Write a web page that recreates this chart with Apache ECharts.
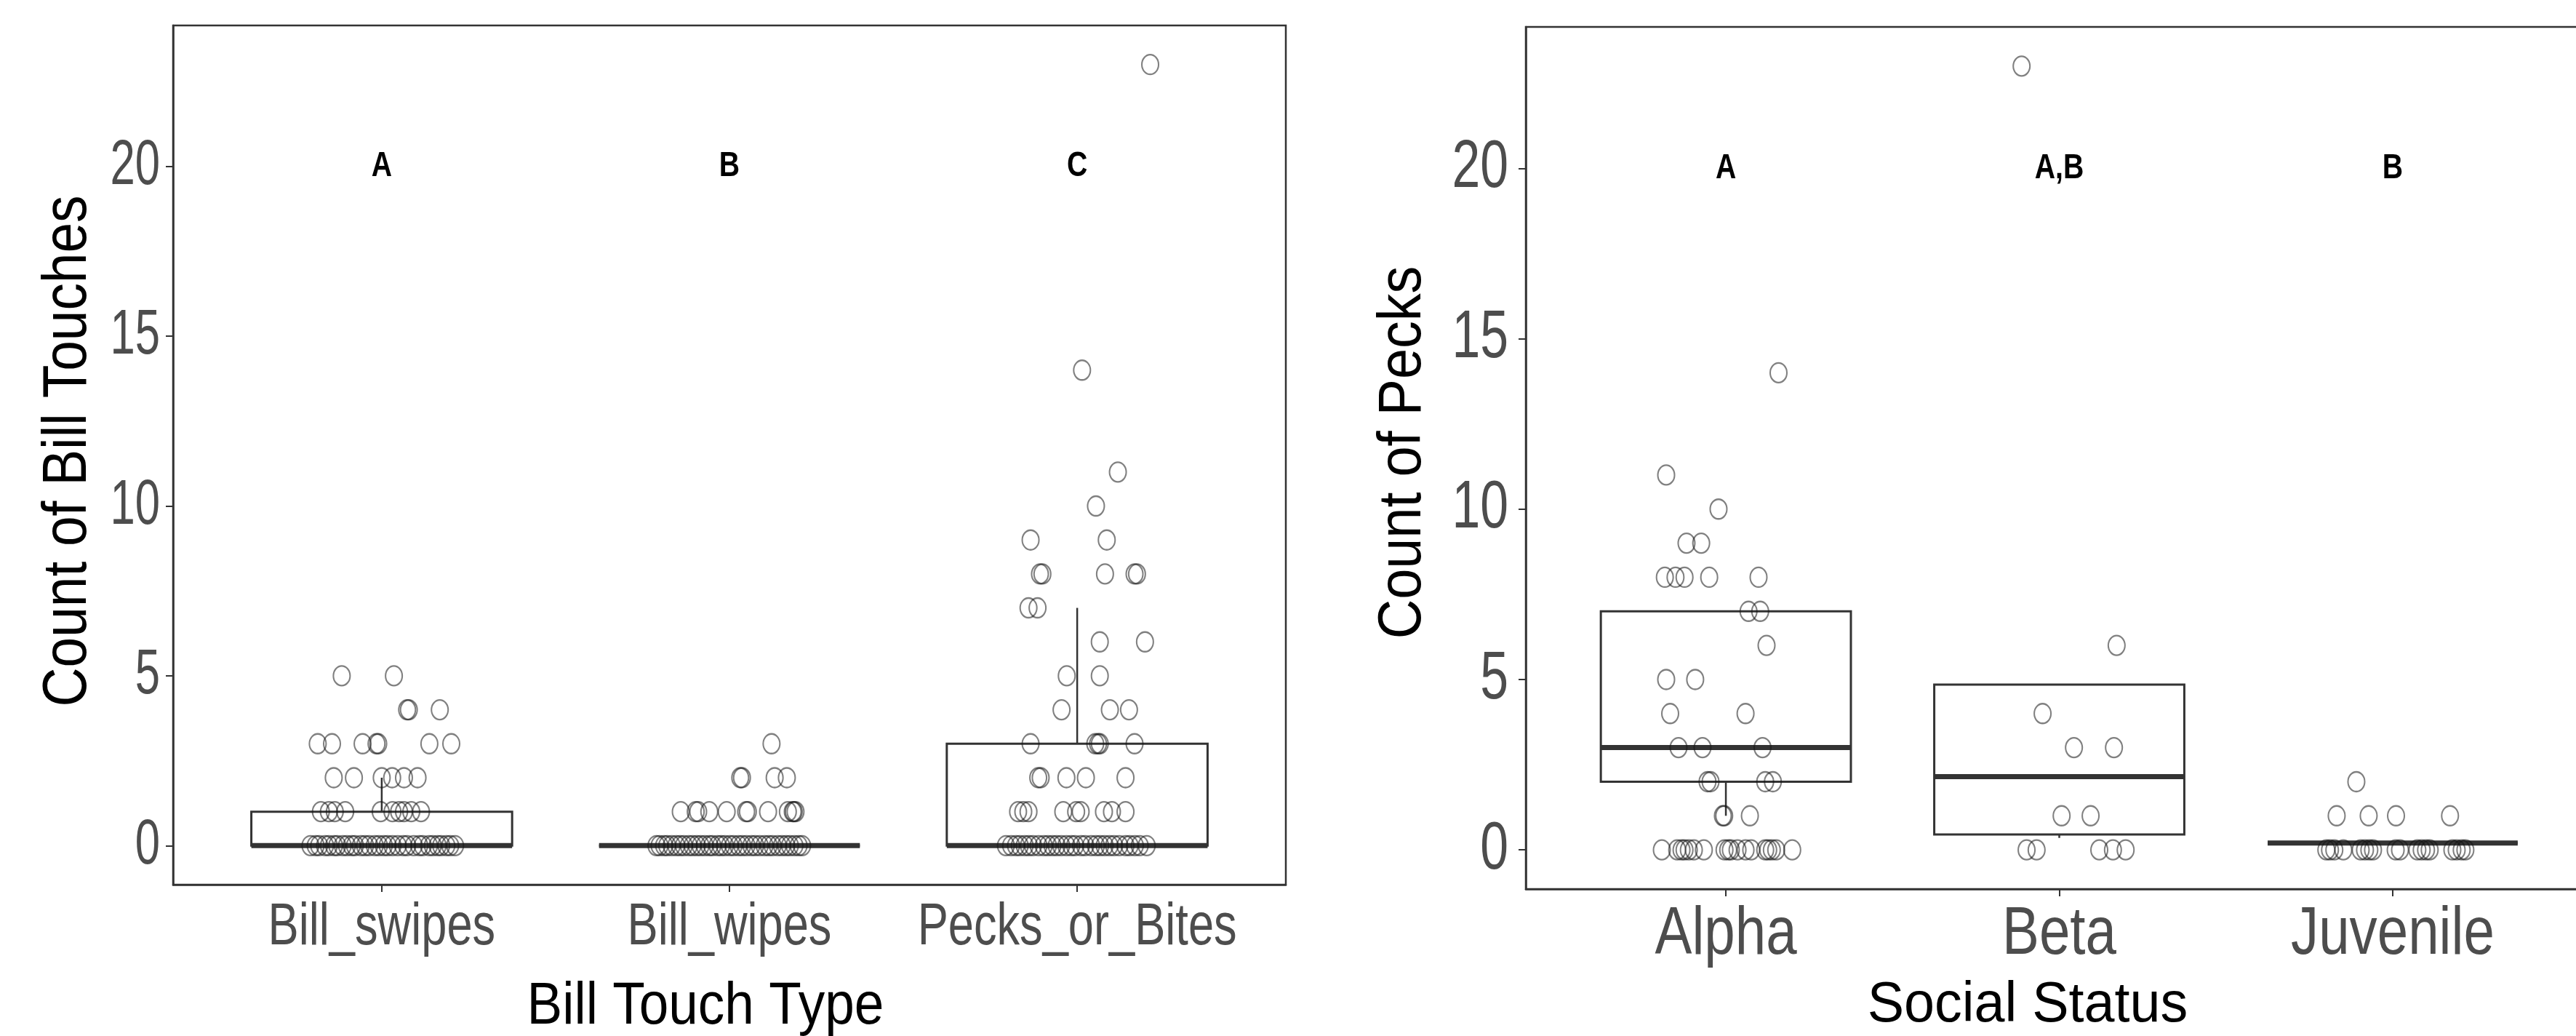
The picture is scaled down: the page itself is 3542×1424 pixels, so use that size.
<!DOCTYPE html>
<html><head><meta charset="utf-8">
<script src="https://cdn.jsdelivr.net/npm/echarts@6/dist/echarts.min.js"></script>
<style>html,body{margin:0;padding:0;background:#fff}#c{width:3542px;height:1424px}</style>
</head><body><div id="c"></div>
<script>
// ---------- data ----------
const touchTypes = ['Bill_swipes', 'Bill_wipes', 'Pecks_or_Bites'];
const statuses = ['Alpha', 'Beta', 'Juvenile'];
const yTicks = [0, 5, 10, 15, 20];
const touchLetters = ['A', 'B', 'C'];
const statusLetters = ['A', 'A,B', 'B'];
const letterLevel = 20;
const leftTitles = {x: 'Bill Touch Type', y: 'Count of Bill Touches'};
const rightTitles = {x: 'Social Status', y: 'Count of Pecks'};
// box stats: [lowerWhisker, q1, median, q3, upperWhisker]
const touchBoxes = [[0, 0, 0, 1, 2], [0, 0, 0, 0, 0], [0, 0, 0, 3, 7]];
const statusBoxes = [[1, 2, 3, 7, 7], [0.35, 0.45, 2.15, 4.85, 4.85], [0.2, 0.2, 0.2, 0.2, 0.2]];

// jittered points: [horizontal jitter (category units), count]
const billSwipes = [
  [-0.115,5],[0.035,5],
  [0.073,4],[0.078,4],[0.167,4],
  [-0.184,3],[-0.143,3],[-0.055,3],[-0.015,3],[-0.01,3],[0.137,3],[0.2,3],
  [-0.138,2],[-0.08,2],[0.0,2],[0.03,2],[0.064,2],[0.103,2],
  [-0.175,1],[-0.152,1],[-0.135,1],[-0.105,1],[-0.003,1],[0.031,1],[0.05,1],[0.064,1],[0.085,1],[0.113,1],
  [-0.205,0],[-0.19,0],[-0.18,0],[-0.163,0],[-0.152,0],[-0.137,0],[-0.128,0],[-0.112,0],[-0.1,0],[-0.086,0],
  [-0.077,0],[-0.06,0],[-0.048,0],[-0.036,0],[-0.02,0],[-0.008,0],[0.006,0],[0.017,0],[0.031,0],[0.046,0],
  [0.062,0],[0.073,0],[0.092,0],[0.108,0],[0.118,0],[0.136,0],[0.147,0],[0.161,0],[0.171,0],[0.186,0],[0.197,0],[0.211,0]
];
const billWipes = [
  [0.121,3],
  [0.031,2],[0.036,2],[0.13,2],[0.165,2],
  [-0.14,1],[-0.097,1],[-0.09,1],[-0.058,1],[-0.008,1],[0.048,1],[0.053,1],[0.111,1],[0.168,1],[0.182,1],[0.185,1],[0.19,1],
  [-0.21,0],[-0.201,0],[-0.188,0],[-0.179,0],[-0.166,0],[-0.153,0],[-0.142,0],[-0.131,0],[-0.117,0],[-0.106,0],
  [-0.094,0],[-0.083,0],[-0.071,0],[-0.058,0],[-0.049,0],[-0.034,0],[-0.024,0],[-0.013,0],[0.001,0],[0.012,0],
  [0.026,0],[0.037,0],[0.049,0],[0.063,0],[0.074,0],[0.087,0],[0.101,0],[0.113,0],[0.124,0],[0.139,0],
  [0.151,0],[0.163,0],[0.174,0],[0.187,0],[0.199,0],[0.209,0]
];
const pecksOrBites = [
  [0.21,23],[0.014,14],[0.117,11],[0.054,10],
  [-0.134,9],[0.085,9],
  [-0.107,8],[-0.1,8],[0.08,8],[0.165,8],[0.172,8],
  [-0.14,7],[-0.114,7],
  [0.065,6],[0.195,6],
  [-0.03,5],[0.065,5],
  [-0.045,4],[0.094,4],[0.149,4],
  [-0.134,3],[0.052,3],[0.06,3],[0.065,3],[0.165,3],
  [-0.112,2],[-0.105,2],[-0.031,2],[0.025,2],[0.139,2],
  [-0.17,1],[-0.155,1],[-0.14,1],[-0.04,1],[-0.003,1],[0.01,1],[0.077,1],[0.1,1],[0.139,1],
  [-0.205,0],[-0.19,0],[-0.176,0],[-0.165,0],[-0.151,0],[-0.139,0],[-0.127,0],[-0.111,0],[-0.096,0],[-0.084,0],
  [-0.071,0],[-0.059,0],[-0.046,0],[-0.031,0],[-0.017,0],[-0.006,0],[0.011,0],[0.023,0],[0.04,0],[0.054,0],
  [0.066,0],[0.079,0],[0.093,0],[0.106,0],[0.121,0],[0.139,0],[0.151,0],[0.166,0],[0.18,0],[0.2,0]
];
const alphaPecks = [
  [0.158,14],[-0.179,11],[-0.022,10],
  [-0.118,9],[-0.074,9],
  [-0.183,8],[-0.151,8],[-0.124,8],[-0.05,8],[0.098,8],
  [0.068,7],[0.103,7],
  [0.122,6],
  [-0.179,5],[-0.092,5],
  [-0.167,4],[0.059,4],
  [-0.142,3],[-0.07,3],[0.11,3],
  [-0.055,2],[-0.046,2],[0.118,2],[0.141,2],
  [-0.009,1],[-0.005,1],[0.072,1],
  [-0.192,0],[-0.146,0],[-0.133,0],[-0.124,0],[-0.111,0],[-0.096,0],[-0.066,0],[-0.004,0],[0.007,0],
  [0.015,0],[0.035,0],[0.059,0],[0.076,0],[0.118,0],[0.127,0],[0.138,0],[0.151,0],[0.199,0]
];
const betaPecks = [
  [-0.113,23],[0.172,6],[-0.05,4],
  [0.044,3],[0.164,3],
  [0.007,1],[0.094,1],
  [-0.098,0],[-0.068,0],[0.12,0],[0.161,0],[0.199,0]
];
const juvenilePecks = [
  [-0.109,2],
  [-0.168,1],[-0.072,1],[0.01,1],[0.172,1],
  [-0.199,0],[-0.188,0],[-0.175,0],[-0.148,0],[-0.096,0],[-0.083,0],[-0.07,0],[-0.059,0],[0.009,0],
  [0.022,0],[0.074,0],[0.087,0],[0.1,0],[0.111,0],[0.179,0],[0.192,0],[0.207,0],[0.218,0]
];

// ---------- styling ----------
const FONT = "'Liberation Sans', Arial, sans-serif";
const DARK = '#333333';
const TICKGREY = '#4d4d4d';

const chart = echarts.init(document.getElementById('c'), null, {renderer: 'canvas'});

function toPoints(arr, idx) { return arr.map(p => [idx + p[0], p[1]]); }

function boxRender(params, api) {
  const i = api.value(0), lw = api.value(1), q1 = api.value(2), md = api.value(3), q3 = api.value(4), uw = api.value(5);
  const hw = 0.375;
  const tl = api.coord([i - hw, q3]), br = api.coord([i + hw, q1]);
  const ml = api.coord([i - hw, md]), mr = api.coord([i + hw, md]);
  const children = [];
  if (uw > q3) {
    const a = api.coord([i, q3]), b = api.coord([i, uw]);
    children.push({type: 'line', shape: {x1: a[0], y1: a[1], x2: b[0], y2: b[1]}, style: {stroke: DARK, lineWidth: 2.5}});
  }
  if (lw < q1) {
    const a = api.coord([i, q1]), b = api.coord([i, lw]);
    children.push({type: 'line', shape: {x1: a[0], y1: a[1], x2: b[0], y2: b[1]}, style: {stroke: DARK, lineWidth: 2.5}});
  }
  children.push({type: 'rect', shape: {x: tl[0], y: tl[1], width: br[0] - tl[0], height: br[1] - tl[1]},
    style: {fill: 'none', stroke: DARK, lineWidth: 3}});
  children.push({type: 'line', shape: {x1: ml[0], y1: ml[1], x2: mr[0], y2: mr[1]}, style: {stroke: DARK, lineWidth: 7}});
  return {type: 'group', children};
}

function xAxisCfg(grid) {
  return {
    gridIndex: grid, type: 'value', min: 0.4, max: 3.6,
    axisLine: {show: true, onZero: false, lineStyle: {color: DARK, width: 2.5}},
    axisTick: {show: true, customValues: [1, 2, 3], length: 10, lineStyle: {color: DARK, width: 2}},
    axisLabel: {show: false},
    splitLine: {show: false}
  };
}
function yAxisCfg(grid) {
  return {
    gridIndex: grid, type: 'value', min: -1.15, max: 24.15,
    axisLine: {show: true, onZero: false, lineStyle: {color: DARK, width: 2.5}},
    axisTick: {show: true, customValues: yTicks, length: 10, lineStyle: {color: DARK, width: 2}},
    axisLabel: {show: false},
    splitLine: {show: false}
  };
}

const pointStyle = {color: 'rgba(0,0,0,0)', borderColor: 'rgba(20,20,20,0.68)', borderWidth: 2.2};
function scatterSeries(grid, arr, idx) {
  return {type: 'scatter', xAxisIndex: grid, yAxisIndex: grid, symbol: 'circle', symbolSize: [23, 27],
    itemStyle: pointStyle, data: toPoints(arr, idx), z: 3, silent: true, animation: false};
}

const option = {
  backgroundColor: '#fff',
  animation: false,
  grid: [
    {left: 238, top: 35, width: 1530, height: 1181, show: true, borderColor: DARK, borderWidth: 2.5,
      backgroundColor: 'transparent', outerBoundsMode: 'none', containLabel: false},
    {left: 2098, top: 37, width: 1467, height: 1185, show: true, borderColor: DARK, borderWidth: 2.5,
      backgroundColor: 'transparent', outerBoundsMode: 'none', containLabel: false}
  ],
  xAxis: [xAxisCfg(0), xAxisCfg(1)],
  yAxis: [yAxisCfg(0), yAxisCfg(1)],
  series: [
    {type: 'custom', xAxisIndex: 0, yAxisIndex: 0, renderItem: boxRender, z: 2, silent: true,
      data: touchBoxes.map((b, k) => [k + 1].concat(b)), encode: {x: 0, y: [1, 2, 3, 4, 5]}},
    {type: 'custom', xAxisIndex: 1, yAxisIndex: 1, renderItem: boxRender, z: 2, silent: true,
      data: statusBoxes.map((b, k) => [k + 1].concat(b)), encode: {x: 0, y: [1, 2, 3, 4, 5]}},
    scatterSeries(0, billSwipes, 1),
    scatterSeries(0, billWipes, 2),
    scatterSeries(0, pecksOrBites, 3),
    scatterSeries(1, alphaPecks, 1),
    scatterSeries(1, betaPecks, 2),
    scatterSeries(1, juvenilePecks, 3)
  ]
};
chart.setOption(option);

// ---------- text (real text, placed through the chart's own coordinate conversion) ----------
function txt(x, y, text, size, opts) {
  opts = opts || {};
  return {
    type: 'text', x: x, y: y, scaleX: opts.scaleX || 1, rotation: opts.rotation || 0, z: 10, silent: true,
    style: {text: text, fill: opts.color || '#000', fontSize: size, fontFamily: FONT,
      fontWeight: opts.weight || 'normal', align: opts.align || 'center', verticalAlign: 'middle'}
  };
}
function panelText(g, cats, letters, titles, cfg) {
  const els = [];
  const px = v => chart.convertToPixel({gridIndex: g}, v);
  const axisX = px([0.4, 0])[0];
  const axisY = px([1, -1.15])[1];
  yTicks.forEach(t => {
    const p = px([0.4, t]);
    els.push(txt(axisX - cfg.yLabelGap, p[1], String(t), cfg.yLabelSize, {align: 'right', scaleX: cfg.yLabelScale, color: TICKGREY}));
  });
  cats.forEach((c, k) => {
    const p = px([k + 1, 0]);
    els.push(txt(p[0], axisY + cfg.xLabelOffset, c, cfg.xLabelSize, {scaleX: cfg.xLabelScale, color: TICKGREY}));
  });
  letters.forEach((l, k) => {
    const p = px([k + 1, letterLevel]);
    els.push(txt(p[0], p[1], l, 49, {weight: 'bold', scaleX: 0.8}));
  });
  els.push(txt(cfg.xTitleX, cfg.xTitleY, titles.x, cfg.xTitleSize, {scaleX: cfg.xTitleScale}));
  els.push(txt(cfg.yTitleX, cfg.yTitleY, titles.y, cfg.yTitleSize, {scaleX: cfg.yTitleScale, rotation: Math.PI / 2}));
  return els;
}
const graphics = []
  .concat(panelText(0, touchTypes, touchLetters, leftTitles, {
    yLabelGap: 18, yLabelSize: 88, yLabelScale: 0.7,
    xLabelOffset: 60, xLabelSize: 81, xLabelScale: 0.78,
    xTitleX: 970, xTitleY: 1384, xTitleSize: 82, xTitleScale: 0.89,
    yTitleX: 94, yTitleY: 620, yTitleSize: 86, yTitleScale: 0.87
  }))
  .concat(panelText(1, statuses, statusLetters, rightTitles, {
    yLabelGap: 24, yLabelSize: 93, yLabelScale: 0.75,
    xLabelOffset: 63, xLabelSize: 93, xLabelScale: 0.82,
    xTitleX: 2788, xTitleY: 1383, xTitleSize: 77, xTitleScale: 0.98,
    yTitleX: 1930, yTitleY: 622, yTitleSize: 84, yTitleScale: 0.9
  }));
chart.setOption({graphic: {elements: graphics}});
</script>
</body></html>
